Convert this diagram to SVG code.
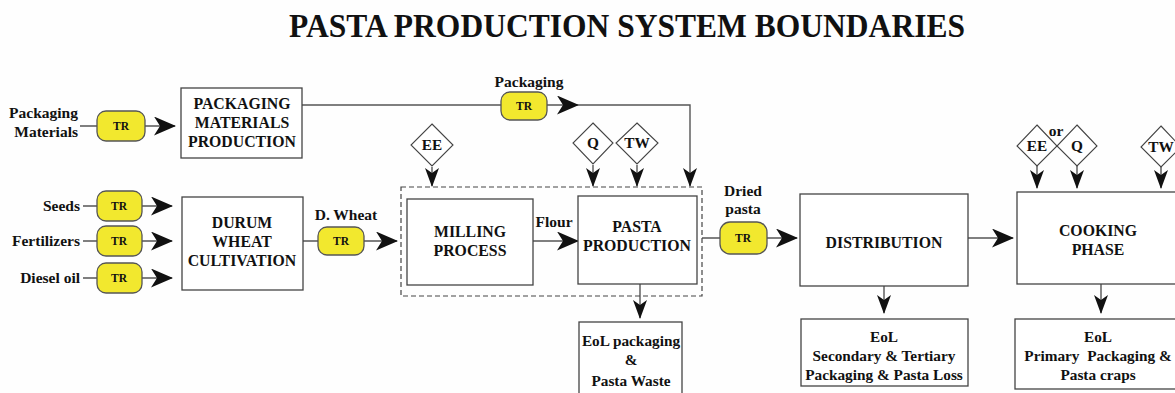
<svg xmlns="http://www.w3.org/2000/svg" width="1175" height="393" viewBox="0 0 1175 393">
  <style>
    text { font-family: "Liberation Serif", "Times New Roman", serif; font-weight: bold; fill: #111; }
    .box { fill: #fff; stroke: #444; stroke-width: 1.3; }
    .pill { fill: #f2e82e; stroke: #555; stroke-width: 1.3; }
    .dia { fill: #fff; stroke: #444; stroke-width: 1.1; }
    .lbl { font-size: 15.5px; }
    .btxt { font-size: 15.8px; text-anchor: middle; }
    .tr { font-size: 11.5px; text-anchor: middle; }
    .dtxt { font-size: 15.3px; text-anchor: middle; }
    .ln { fill: none; stroke: #555; stroke-width: 1.4; }
    .bnd { fill: none; stroke: #444; stroke-width: 1.2; stroke-dasharray: 5 3; }
  </style>
  <defs>
    <marker id="ah" markerUnits="userSpaceOnUse" markerWidth="22" markerHeight="19" viewBox="0 0 22 19" refX="21" refY="9.5" orient="auto">
      <path d="M0,0 L22,9.5 L0,19 L6,9.5 Z" fill="#111"/>
    </marker>
    <marker id="av" markerUnits="userSpaceOnUse" markerWidth="19" markerHeight="14" viewBox="0 0 19 14" refX="18" refY="7" orient="auto">
      <path d="M0,0 L19,7 L0,14 L5,7 Z" fill="#111"/>
    </marker>
  </defs>
  <rect width="1175" height="393" fill="#fefefe"/>

  <text x="627" y="37" font-size="33" text-anchor="middle" textLength="676" lengthAdjust="spacingAndGlyphs">PASTA PRODUCTION SYSTEM BOUNDARIES</text>

  <!-- connectors -->
  <g id="connectors">
    <path class="ln" d="M80,126 H175" marker-end="url(#ah)"/>
    <path class="ln" d="M83,206 H172" marker-end="url(#ah)"/>
    <path class="ln" d="M83,241 H172" marker-end="url(#ah)"/>
    <path class="ln" d="M83,278 H172" marker-end="url(#ah)"/>
    <path class="ln" d="M303,241 H397" marker-end="url(#ah)"/>
    <path class="ln" d="M533,241 H578" marker-end="url(#ah)"/>
    <path class="ln" d="M702,238 H797" marker-end="url(#ah)"/>
    <path class="ln" d="M968,238 H1013" marker-end="url(#ah)"/>
    <path class="ln" d="M302,105 H578" marker-end="url(#ah)"/>
    <path class="ln" d="M578,105 H690 V186" marker-end="url(#av)"/>
    <path class="ln" d="M432,167 V186" marker-end="url(#av)"/>
    <path class="ln" d="M593,165 V186" marker-end="url(#av)"/>
    <path class="ln" d="M637,165 V186" marker-end="url(#av)"/>
    <path class="ln" d="M640,284 V318" marker-end="url(#av)"/>
    <path class="ln" d="M884,286 V313" marker-end="url(#av)"/>
    <path class="ln" d="M1101,284 V313" marker-end="url(#av)"/>
    <path class="ln" d="M1037,166 V188" marker-end="url(#av)"/>
    <path class="ln" d="M1077,166 V188" marker-end="url(#av)"/>
    <path class="ln" d="M1161,166 V188" marker-end="url(#av)"/>
  </g>

  <!-- system boundary -->
  <rect class="bnd" x="401" y="187" width="301" height="109"/>

  <!-- inputs -->
  <g id="in-packaging">
    <text class="lbl" x="78" y="118" text-anchor="end">Packaging</text>
    <text class="lbl" x="78" y="137" text-anchor="end">Materials</text>
    <rect class="pill" x="97" y="111" width="48" height="30" rx="9"/>
    <text class="tr" x="121" y="130">TR</text>
  </g>
  <g id="in-seeds">
    <text class="lbl" x="80" y="211" text-anchor="end">Seeds</text>
    <rect class="pill" x="97" y="191" width="45" height="30" rx="9"/>
    <text class="tr" x="119" y="210">TR</text>
  </g>
  <g id="in-fert">
    <text class="lbl" x="80" y="246" text-anchor="end">Fertilizers</text>
    <rect class="pill" x="97" y="226" width="45" height="30" rx="9"/>
    <text class="tr" x="119" y="245">TR</text>
  </g>
  <g id="in-diesel">
    <text class="lbl" x="80" y="283" text-anchor="end">Diesel oil</text>
    <rect class="pill" x="97" y="263" width="45" height="30" rx="9"/>
    <text class="tr" x="119" y="282">TR</text>
  </g>

  <!-- process nodes -->
  <g id="pkg-prod">
    <rect class="box" x="181" y="88" width="121" height="70"/>
    <text class="btxt" x="242" y="109">PACKAGING</text>
    <text class="btxt" x="242" y="128">MATERIALS</text>
    <text class="btxt" x="242" y="147">PRODUCTION</text>
  </g>
  <g id="pkg-tr">
    <text class="lbl" x="529" y="87" text-anchor="middle">Packaging</text>
    <rect class="pill" x="501" y="92" width="46" height="28" rx="9"/>
    <text class="tr" x="524" y="110">TR</text>
  </g>
  <g id="durum">
    <rect class="box" x="182" y="197" width="121" height="93"/>
    <text class="btxt" x="242" y="228">DURUM</text>
    <text class="btxt" x="242" y="247">WHEAT</text>
    <text class="btxt" x="242" y="266">CULTIVATION</text>
  </g>
  <g id="wheat-tr">
    <text class="lbl" x="346" y="220" text-anchor="middle">D. Wheat</text>
    <rect class="pill" x="318" y="227" width="46" height="28" rx="9"/>
    <text class="tr" x="341" y="245">TR</text>
  </g>
  <g id="milling">
    <rect class="box" x="407" y="199" width="126" height="86"/>
    <text class="btxt" x="470" y="237">MILLING</text>
    <text class="btxt" x="470" y="256">PROCESS</text>
    <text class="lbl" x="554" y="227" text-anchor="middle">Flour</text>
  </g>
  <g id="pasta">
    <rect class="box" x="578" y="196" width="119" height="88"/>
    <text class="btxt" x="637" y="232">PASTA</text>
    <text class="btxt" x="637" y="251">PRODUCTION</text>
  </g>
  <g id="ee-mill">
    <path class="dia" d="M432,124 L453,145 L432,166 L411,145 Z"/>
    <text class="dtxt" x="432" y="150">EE</text>
  </g>
  <g id="q-pasta">
    <path class="dia" d="M593,123 L613,143 L593,164 L573,143 Z"/>
    <text class="dtxt" x="593" y="148">Q</text>
  </g>
  <g id="tw-pasta">
    <path class="dia" d="M637,123 L658,143 L637,164 L616,143 Z"/>
    <text class="dtxt" x="637" y="148">TW</text>
  </g>
  <g id="eol-pasta">
    <rect class="box" x="579" y="322" width="103" height="80"/>
    <text class="dtxt" x="631" y="346">EoL packaging</text>
    <text class="dtxt" x="631" y="365">&amp;</text>
    <text class="dtxt" x="631" y="386">Pasta Waste</text>
  </g>
  <g id="dried-tr">
    <text class="lbl" x="743" y="196" text-anchor="middle">Dried</text>
    <text class="lbl" x="743" y="214" text-anchor="middle">pasta</text>
    <rect class="pill" x="720" y="222" width="47" height="32" rx="10"/>
    <text class="tr" x="743" y="242">TR</text>
  </g>
  <g id="distribution">
    <rect class="box" x="800" y="194" width="168" height="92"/>
    <text class="btxt" x="884" y="248">DISTRIBUTION</text>
  </g>
  <g id="eol-dist">
    <rect class="box" x="801" y="319" width="167" height="67"/>
    <text class="dtxt" x="884" y="342">EoL</text>
    <text class="dtxt" x="884" y="361">Secondary &amp; Tertiary</text>
    <text class="dtxt" x="884" y="380">Packaging &amp; Pasta Loss</text>
  </g>
  <g id="cooking">
    <rect class="box" x="1017" y="192" width="170" height="92"/>
    <text class="btxt" x="1098" y="236">COOKING</text>
    <text class="btxt" x="1098" y="255">PHASE</text>
  </g>
  <g id="ee-cook">
    <path class="dia" d="M1037,125 L1057,146 L1037,166 L1017,146 Z"/>
    <text class="dtxt" x="1037" y="151">EE</text>
  </g>
  <g id="q-cook">
    <path class="dia" d="M1077,125 L1097,146 L1077,166 L1057,146 Z"/>
    <text class="dtxt" x="1077" y="151">Q</text>
    <text class="lbl" x="1056" y="136" text-anchor="middle">or</text>
  </g>
  <g id="tw-cook">
    <path class="dia" d="M1161,126 L1181,147 L1161,167 L1141,147 Z"/>
    <text class="dtxt" x="1161" y="152">TW</text>
  </g>
  <g id="eol-cook">
    <rect class="box" x="1015" y="319" width="170" height="70"/>
    <text class="dtxt" x="1098" y="342">EoL</text>
    <text class="dtxt" x="1098" y="361" xml:space="preserve">Primary  Packaging &amp;</text>
    <text class="dtxt" x="1098" y="380">Pasta craps</text>
  </g>
</svg>
